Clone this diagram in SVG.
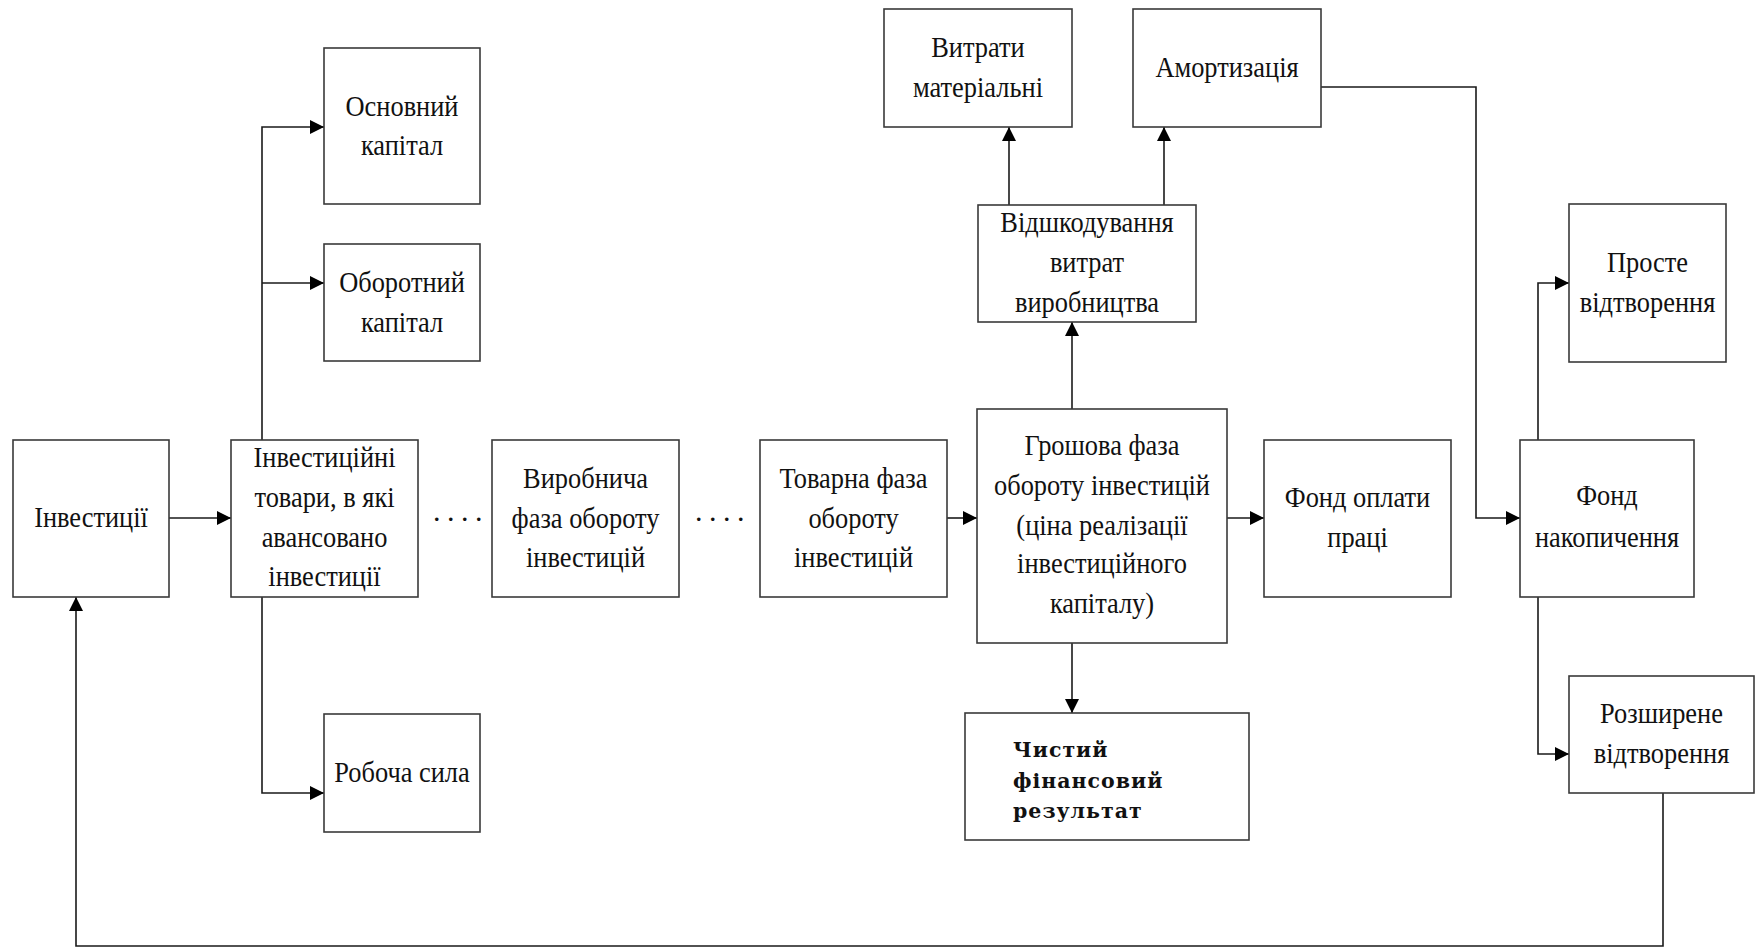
<svg xmlns="http://www.w3.org/2000/svg" width="1756" height="949" viewBox="0 0 1756 949">
  <defs>
    <marker id="arr" viewBox="0 0 14 14" refX="14" refY="7" markerWidth="14" markerHeight="14" markerUnits="userSpaceOnUse" orient="auto">
      <path d="M0,0 L14,7 L0,14 Z" fill="#000"/>
    </marker>
    <style>
      .box { fill: #fff; stroke: #3a3a3a; stroke-width: 1.6; }
      .lbl { font-family: "Liberation Serif", "Times New Roman", serif; font-size: 30px; fill: #111; text-anchor: middle; }
      .bold { font-family: "DejaVu Serif", "Liberation Serif", serif; font-size: 20.5px; font-weight: bold; fill: #111; }
      .dots { font-family: "Liberation Serif", serif; font-size: 30px; fill: #111; letter-spacing: 6.5px; }
      .wire { fill: none; stroke: #1a1a1a; stroke-width: 1.6; }
      .arrow { marker-end: url(#arr); }
    </style>
  </defs>
  <rect width="1756" height="949" fill="#fff"/>

  <!-- connectors -->
  <g id="connectors">
    <path class="wire arrow" d="M169,518 H231"/>
    <path class="wire arrow" d="M262,440 V127 H324"/>
    <path class="wire arrow" d="M262,283 H324"/>
    <path class="wire arrow" d="M262,597 V793 H324"/>
    <path class="wire arrow" d="M947,518 H977"/>
    <path class="wire arrow" d="M1072,409 V322"/>
    <path class="wire arrow" d="M1009,205 V127"/>
    <path class="wire arrow" d="M1164,205 V127"/>
    <path class="wire arrow" d="M1227,518 H1264"/>
    <path class="wire arrow" d="M1072,643 V713"/>
    <path class="wire arrow" d="M1321,87 H1476 V518 H1520"/>
    <path class="wire arrow" d="M1538,440 V283 H1569"/>
    <path class="wire arrow" d="M1538,597 V754 H1569"/>
    <path class="wire arrow" d="M1663,793 V946 H76 V597"/>
    <text class="dots" x="433" y="521">....</text>
    <text class="dots" x="695" y="521">....</text>
  </g>

  <!-- nodes -->
  <g id="investytsii">
    <rect class="box" x="13" y="440" width="156" height="157"/>
    <g transform="translate(91,0) scale(0.88,1)"><text class="lbl" x="0" y="527">Інвестиції</text></g>
  </g>

  <g id="investytsiini-tovary">
    <rect class="box" x="231" y="440" width="187" height="157"/>
    <g transform="translate(324.5,0) scale(0.88,1)">
      <text class="lbl" x="0" y="467">Інвестиційні</text>
      <text class="lbl" x="0" y="507">товари, в які</text>
      <text class="lbl" x="0" y="547">авансовано</text>
      <text class="lbl" x="0" y="586">інвестиції</text>
    </g>
  </g>

  <g id="osnovnyi-kapital">
    <rect class="box" x="324" y="48" width="156" height="156"/>
    <g transform="translate(402,0) scale(0.88,1)">
      <text class="lbl" x="0" y="116">Основний</text>
      <text class="lbl" x="0" y="155">капітал</text>
    </g>
  </g>

  <g id="oborotnyi-kapital">
    <rect class="box" x="324" y="244" width="156" height="117"/>
    <g transform="translate(402,0) scale(0.88,1)">
      <text class="lbl" x="0" y="292">Оборотний</text>
      <text class="lbl" x="0" y="332">капітал</text>
    </g>
  </g>

  <g id="robocha-syla">
    <rect class="box" x="324" y="714" width="156" height="118"/>
    <g transform="translate(402,0) scale(0.88,1)"><text class="lbl" x="0" y="782">Робоча сила</text></g>
  </g>

  <g id="vyrobnycha-faza">
    <rect class="box" x="492" y="440" width="187" height="157"/>
    <g transform="translate(585.5,0) scale(0.88,1)">
      <text class="lbl" x="0" y="488">Виробнича</text>
      <text class="lbl" x="0" y="528">фаза обороту</text>
      <text class="lbl" x="0" y="567">інвестицій</text>
    </g>
  </g>

  <g id="tovarna-faza">
    <rect class="box" x="760" y="440" width="187" height="157"/>
    <g transform="translate(853.5,0) scale(0.88,1)">
      <text class="lbl" x="0" y="488">Товарна фаза</text>
      <text class="lbl" x="0" y="528">обороту</text>
      <text class="lbl" x="0" y="567">інвестицій</text>
    </g>
  </g>

  <g id="hroshova-faza">
    <rect class="box" x="977" y="409" width="250" height="234"/>
    <g transform="translate(1102,0) scale(0.88,1)">
      <text class="lbl" x="0" y="455">Грошова фаза</text>
      <text class="lbl" x="0" y="495">обороту інвестицій</text>
      <text class="lbl" x="0" y="535">(ціна реалізації</text>
      <text class="lbl" x="0" y="573">інвестиційного</text>
      <text class="lbl" x="0" y="613">капіталу)</text>
    </g>
  </g>

  <g id="vidshkoduvannia">
    <rect class="box" x="978" y="205" width="218" height="117"/>
    <g transform="translate(1087,0) scale(0.88,1)">
      <text class="lbl" x="0" y="232">Відшкодування</text>
      <text class="lbl" x="0" y="272">витрат</text>
      <text class="lbl" x="0" y="312">виробництва</text>
    </g>
  </g>

  <g id="vytraty-materialni">
    <rect class="box" x="884" y="9" width="188" height="118"/>
    <g transform="translate(978,0) scale(0.88,1)">
      <text class="lbl" x="0" y="57">Витрати</text>
      <text class="lbl" x="0" y="97">матеріальні</text>
    </g>
  </g>

  <g id="amortyzatsiia">
    <rect class="box" x="1133" y="9" width="188" height="118"/>
    <g transform="translate(1227,0) scale(0.88,1)"><text class="lbl" x="0" y="77">Амортизація</text></g>
  </g>

  <g id="fond-oplaty-pratsi">
    <rect class="box" x="1264" y="440" width="187" height="157"/>
    <g transform="translate(1357.5,0) scale(0.88,1)">
      <text class="lbl" x="0" y="507">Фонд оплати</text>
      <text class="lbl" x="0" y="547">праці</text>
    </g>
  </g>

  <g id="chystyi-rezultat">
    <rect class="box" x="965" y="713" width="284" height="127"/>
    <text class="bold" x="1013" y="757" letter-spacing="1">Чистий</text>
    <text class="bold" x="1013" y="788" letter-spacing="1">фінансовий</text>
    <text class="bold" x="1013" y="818" letter-spacing="1">результат</text>
  </g>

  <g id="fond-nakopychennia">
    <rect class="box" x="1520" y="440" width="174" height="157"/>
    <g transform="translate(1607,0) scale(0.88,1)">
      <text class="lbl" x="0" y="505">Фонд</text>
      <text class="lbl" x="0" y="547">накопичення</text>
    </g>
  </g>

  <g id="proste-vidtvorennia">
    <rect class="box" x="1569" y="204" width="157" height="158"/>
    <g transform="translate(1647.5,0) scale(0.88,1)">
      <text class="lbl" x="0" y="272">Просте</text>
      <text class="lbl" x="0" y="312">відтворення</text>
    </g>
  </g>

  <g id="rozshyrene-vidtvorennia">
    <rect class="box" x="1569" y="676" width="185" height="117"/>
    <g transform="translate(1661.5,0) scale(0.88,1)">
      <text class="lbl" x="0" y="723">Розширене</text>
      <text class="lbl" x="0" y="763">відтворення</text>
    </g>
  </g>
</svg>
